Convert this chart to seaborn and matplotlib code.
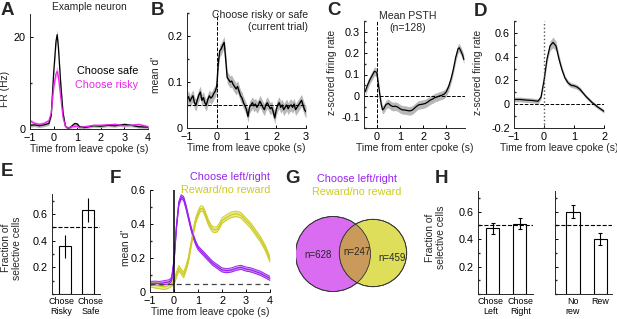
import numpy as np
import pandas as pd
import seaborn as sns
import matplotlib.pyplot as plt
from matplotlib.patches import Circle
from matplotlib.ticker import MultipleLocator

# ---------------- data ----------------
# A  example neuron
a_t = [-1, -0.8, -0.6, -0.4, -0.2, -0.1, 0, 0.1, 0.15, 0.2, 0.3, 0.4, 0.5, 0.6, 0.7, 0.8, 0.9, 1.0,
       1.1, 1.3, 1.5, 1.7, 2.0, 2.3, 2.6, 3.0, 3.3, 3.6, 4.0]
a_safe = [0.8, 0.9, 0.7, 0.9, 1.2, 3.0, 12.0, 19.0, 20.5, 18.0, 10.0, 3.5, 0.6, 0.2, 0.3, 0.8, 1.2, 1.1,
          0.5, 0.3, 0.5, 0.7, 0.6, 0.8, 0.7, 1.0, 0.8, 0.5, 0.4]
a_risky = [1.8, 1.2, 1.0, 1.2, 1.8, 3.5, 9.0, 12.0, 12.5, 11.5, 7.0, 2.5, 0.6, 0.2, 0.4, 0.5, 0.6, 0.6,
           0.3, 0.5, 0.6, 0.8, 0.8, 0.9, 1.0, 0.7, 0.8, 1.0, 0.5]
a_sem = [0.4, 0.4, 0.4, 0.4, 0.4, 0.5, 0.8, 1.0, 1.1, 1.0, 0.8, 0.5, 0.3, 0.3, 0.3, 0.3, 0.3, 0.3,
         0.3, 0.3, 0.3, 0.3, 0.3, 0.3, 0.3, 0.3, 0.3, 0.3, 0.3]

# B  mean d' choose risky vs safe
b_t = [round(-1 + 0.05 * i, 2) for i in range(81)]
b_mean = [0.062, 0.068, 0.058, 0.065, 0.07, 0.055, 0.05, 0.062, 0.072, 0.078,
          0.06, 0.066, 0.055, 0.05, 0.062, 0.07, 0.065, 0.068, 0.075, 0.08,
          0.09, 0.14, 0.168, 0.172, 0.18, 0.186, 0.15, 0.11, 0.105, 0.1,
          0.102, 0.095, 0.09, 0.085, 0.09, 0.08, 0.07, 0.065, 0.055, 0.048,
          0.04, 0.025, 0.045, 0.05, 0.055, 0.048, 0.052, 0.045, 0.05, 0.058,
          0.052, 0.045, 0.04, 0.05, 0.055, 0.048, 0.042, 0.045, 0.035, 0.022,
          0.04, 0.05, 0.055, 0.045, 0.05, 0.04, 0.045, 0.05, 0.042, 0.048,
          0.05, 0.045, 0.052, 0.04, 0.045, 0.05, 0.055, 0.06, 0.05, 0.04, 0.035]
b_sem = 0.013

# C  mean PSTH (enter cpoke)
c_t = [-0.5, -0.4, -0.3, -0.2, -0.1, 0.0, 0.05, 0.1, 0.15, 0.2, 0.25, 0.3, 0.4, 0.5, 0.6, 0.7, 0.8, 0.9,
       1.0, 1.1, 1.2, 1.3, 1.4, 1.5, 1.6, 1.7, 1.8, 1.9, 2.0, 2.1, 2.2, 2.3, 2.4, 2.5, 2.6, 2.7, 2.8,
       2.9, 3.0, 3.1, 3.2, 3.3, 3.4, 3.5, 3.55, 3.6, 3.7, 3.75]
c_mean = [0.02, 0.05, 0.075, 0.095, 0.115, 0.11, 0.07, 0.03, -0.01, -0.045, -0.065, -0.06, -0.04,
          -0.035, -0.045, -0.05, -0.048, -0.052, -0.06, -0.065, -0.066, -0.068, -0.07, -0.068, -0.06,
          -0.05, -0.042, -0.04, -0.038, -0.035, -0.028, -0.02, -0.015, -0.008, -0.005, 0.0, 0.003,
          0.008, 0.02, 0.045, 0.08, 0.125, 0.18, 0.22, 0.225, 0.215, 0.19, 0.17]
c_sem = 0.02

# D  mean PSTH (leave cpoke)
d_t = [-1, -0.8, -0.6, -0.4, -0.2, -0.1, 0, 0.1, 0.2, 0.3, 0.4, 0.5, 0.6, 0.7, 0.8, 0.9, 1.0, 1.1,
       1.2, 1.3, 1.4, 1.5, 1.6, 1.7, 1.8, 1.9, 2.0]
d_mean = [0.04, 0.04, 0.035, 0.032, 0.025, 0.06, 0.2, 0.38, 0.49, 0.52, 0.49, 0.38, 0.29, 0.22, 0.18,
          0.16, 0.155, 0.145, 0.125, 0.095, 0.065, 0.04, 0.015, -0.005, -0.025, -0.042, -0.06]
d_sem = [0.02, 0.02, 0.02, 0.02, 0.02, 0.02, 0.025, 0.03, 0.04, 0.045, 0.04, 0.035, 0.025, 0.02, 0.02,
         0.02, 0.02, 0.02, 0.02, 0.015, 0.015, 0.015, 0.015, 0.015, 0.015, 0.015, 0.015]

# E  fraction of selective cells
e_labels = ['Chose\nRisky', 'Chose\nSafe']
e_frac = [0.36, 0.63]
e_lo = [0.27, 0.54]
e_hi = [0.44, 0.72]

# F  mean d' choice vs reward
f_t = [-1, -0.8, -0.6, -0.4, -0.2, -0.1, 0, 0.1, 0.2, 0.3, 0.4, 0.5, 0.6, 0.7, 0.8, 0.9, 1.0, 1.1,
       1.2, 1.3, 1.4, 1.5, 1.6, 1.7, 1.8, 1.9, 2.0, 2.2, 2.4, 2.6, 2.8, 3.0, 3.2, 3.4, 3.6, 3.8, 4.0]
f_choice = [0.05, 0.052, 0.05, 0.055, 0.06, 0.075, 0.18, 0.38, 0.52, 0.56, 0.55, 0.5, 0.44, 0.38,
            0.33, 0.29, 0.26, 0.245, 0.23, 0.215, 0.2, 0.185, 0.17, 0.16, 0.15, 0.14, 0.13, 0.125,
            0.13, 0.14, 0.145, 0.135, 0.13, 0.12, 0.11, 0.095, 0.08]
f_reward = [0.045, 0.04, 0.035, 0.03, 0.04, 0.05, 0.06, 0.1, 0.14, 0.12, 0.1, 0.14, 0.19, 0.27, 0.35,
            0.42, 0.46, 0.49, 0.49, 0.46, 0.42, 0.39, 0.37, 0.365, 0.37, 0.39, 0.42, 0.44, 0.455,
            0.46, 0.45, 0.42, 0.39, 0.35, 0.31, 0.26, 0.19]
f_sem_choice = 0.012
f_sem_reward = 0.016

# G  overlap of selective cells
g_counts = {'left_only': 628, 'both': 247, 'reward_only': 459}

# H  fraction of selective cells
h1_labels = ['Chose\nLeft', 'Chose\nRight']
h1_frac = [0.48, 0.51]
h1_err = [0.04, 0.04]
h2_labels = ['No\nrew', 'Rew']
h2_frac = [0.60, 0.40]
h2_err = [0.045, 0.045]

# ---------------- style ----------------
sns.set_theme(style='ticks')
plt.rcParams['font.family'] = ['Liberation Sans', 'DejaVu Sans']
plt.rcParams.update({'font.size': 7.3, 'axes.linewidth': 0.7,
                     'xtick.direction': 'in', 'ytick.direction': 'in',
                     'xtick.major.size': 2.5, 'ytick.major.size': 2.5,
                     'xtick.minor.size': 1.5, 'ytick.minor.size': 1.5,
                     'xtick.major.width': 0.7, 'ytick.major.width': 0.7,
                     'xtick.labelsize': 7.8, 'ytick.labelsize': 7.8,
                     'axes.labelsize': 7.4, 'xtick.major.pad': 3.2, 'ytick.major.pad': 3.0})

W, H = 617, 319
fig = plt.figure(figsize=(W / 100, H / 100), dpi=100)


def px_axes(l, t, r, b):
    return fig.add_axes([l / W, 1 - b / H, (r - l) / W, (b - t) / H])


def clean(ax):
    sns.despine(ax=ax)
    ax.tick_params(colors='black', labelcolor='black')


def letter(x, y, s):
    fig.text(x / W, 1 - y / H, s, fontsize=13.5, fontweight='bold', va='top', ha='left')


GREY = '#b8b8b8'
PINK = '#ee22ee'
PURPLE = '#9922ee'
YELLOW = '#cccc22'

# ---------------- A ----------------
ax = px_axes(30, 14, 148, 129)
lo = np.array(a_risky) - np.array(a_sem)
hi = np.array(a_risky) + np.array(a_sem)
ax.fill_between(a_t, lo, hi, color='#f5a8f5', lw=0)
ax.fill_between(a_t, np.array(a_safe) - np.array(a_sem), np.array(a_safe) + np.array(a_sem),
                color=GREY, lw=0)
sns.lineplot(x=a_t, y=a_safe, ax=ax, color='black', lw=0.9)
sns.lineplot(x=a_t, y=a_risky, ax=ax, color=PINK, lw=0.9)
ax.set_xlim(-1, 4)
ax.set_ylim(0, 25)
ax.set_xticks(range(-1, 5))
ax.set_yticks([0, 20])
ax.yaxis.set_minor_locator(MultipleLocator(10))
ax.set_xlabel('Time from leave cpoke (s)', labelpad=0.3)
ax.set_ylabel('FR (Hz)', labelpad=2)
ax.yaxis.set_label_coords(-0.17, 0.35)
ax.set_title('Example neuron', fontsize=7.4, pad=3)
ax.text(0.92, 0.5, 'Choose safe', transform=ax.transAxes, ha='right', va='center', color='black',
        fontsize=7.8)
ax.text(0.92, 0.38, 'Choose risky', transform=ax.transAxes, ha='right', va='center', color=PINK,
        fontsize=7.8)
clean(ax)
letter(1, 2, 'A')

# ---------------- B ----------------
ax = px_axes(187, 13, 306, 128)
bm = np.array(b_mean)
ax.fill_between(b_t, bm - b_sem, bm + b_sem, color=GREY, lw=0)
sns.lineplot(x=b_t, y=b_mean, ax=ax, color='black', lw=1.0)
ax.axvline(0, ls='--', color='black', lw=0.7)
ax.axhline(0.05, ls='--', color='black', lw=0.7)
ax.set_xlim(-1, 3)
ax.set_ylim(0, 0.25)
ax.set_xticks(range(-1, 4))
ax.set_yticks([0, 0.1, 0.2])
ax.set_yticklabels(['0', '0.1', '0.2'])
ax.yaxis.set_minor_locator(MultipleLocator(0.05))
ax.set_xlabel('Time from leave cpoke (s)', labelpad=0.3)
ax.set_ylabel("mean d'", labelpad=2)
ax.yaxis.set_label_coords(-0.22, 0.46)
ax.text(1.02, 1.03, 'Choose risky or safe\n(current trial)', transform=ax.transAxes,
        ha='right', va='top', linespacing=1.25, fontsize=7.6)
clean(ax)
letter(151, 2, 'B')

# ---------------- C ----------------
ax = px_axes(364, 21, 465, 128)
cm = np.array(c_mean)
ax.fill_between(c_t, cm - c_sem, cm + c_sem, color=GREY, lw=0)
sns.lineplot(x=c_t, y=c_mean, ax=ax, color='black', lw=0.9)
ax.axvline(0, ls='--', color='black', lw=0.7)
ax.axhline(0, ls='--', color='black', lw=0.7)
ax.set_xlim(-0.55, 3.8)
ax.set_ylim(-0.15, 0.35)
ax.set_xticks([0, 1, 2, 3])
ax.set_yticks([-0.1, 0, 0.1, 0.2, 0.3])
ax.set_yticklabels(['-0.1', '0', '0.1', '0.2', '0.3'])
ax.yaxis.set_minor_locator(MultipleLocator(0.05))
ax.set_xlabel('Time from enter cpoke (s)', labelpad=0.3)
ax.set_ylabel('z-scored firing rate', labelpad=2)
ax.yaxis.set_label_coords(-0.27, 0.52)
ax.text(0.43, 1.09, 'Mean PSTH\n(n=128)', transform=ax.transAxes, ha='center', va='top',
        linespacing=1.25, fontsize=7.6)
clean(ax)
letter(327, 2, 'C')

# ---------------- D ----------------
ax = px_axes(514, 21, 604, 128)
dm, ds = np.array(d_mean), np.array(d_sem)
ax.fill_between(d_t, dm - ds, dm + ds, color=GREY, lw=0)
sns.lineplot(x=d_t, y=d_mean, ax=ax, color='black', lw=0.9)
ax.axvline(0, ls=':', color='#555555', lw=1.0)
ax.axhline(0, ls='--', color='black', lw=0.7)
ax.set_xlim(-1, 2)
ax.set_ylim(-0.2, 0.7)
ax.set_xticks([-1, 0, 1, 2])
ax.set_yticks([-0.2, 0, 0.2, 0.4, 0.6])
ax.set_yticklabels(['-0.2', '0', '0.2', '0.4', '0.6'])
ax.yaxis.set_minor_locator(MultipleLocator(0.1))
ax.set_xlabel('Time from leave cpoke (s)', labelpad=0.3)
ax.set_ylabel('z-scored firing rate', labelpad=2)
ax.yaxis.set_label_coords(-0.34, 0.52)
clean(ax)
letter(474, 3, 'D')


# ---------------- bar panels ----------------
def bars(ax, labels, vals, lo, hi, cap, label_pos=None):
    sns.barplot(x=labels, y=vals, ax=ax, color='white', edgecolor='black', linewidth=0.8,
                width=0.5, saturation=1)
    yerr = [np.array(vals) - np.array(lo), np.array(hi) - np.array(vals)]
    ax.errorbar(range(len(vals)), vals, yerr=yerr, fmt='none', ecolor='black', elinewidth=0.8,
                capsize=cap, capthick=0.8)
    ax.axhline(0.5, ls='--', color='black', lw=0.8)
    ax.set_ylim(0, 0.75)
    ax.set_yticks([0.2, 0.4, 0.6])
    ax.yaxis.set_minor_locator(MultipleLocator(0.1))
    if label_pos is not None:
        ax.set_xticks(label_pos, labels)
    ax.tick_params(axis='x', length=0, pad=2, labelsize=6.4)
    for t in ax.get_xticklabels():
        t.set_linespacing(1.15)
    clean(ax)


# E
ax = px_axes(52, 194, 100, 294)
bars(ax, e_labels, e_frac, e_lo, e_hi, 0, label_pos=[-0.15, 1.1])
ax.set_xlim(-0.55, 1.5)
ax.set_ylabel('Fraction of\nselective cells', labelpad=2, linespacing=1.1)
ax.yaxis.set_label_coords(-0.62, 0.46)
letter(1, 163, 'E')

# F
ax = px_axes(150, 190, 270, 292)
fc, fr = np.array(f_choice), np.array(f_reward)
ax.fill_between(f_t, fr - f_sem_reward, fr + f_sem_reward, color='#eaea9a', lw=0)
ax.fill_between(f_t, fc - f_sem_choice, fc + f_sem_choice, color='#d49cf5', lw=0)
for off in (-f_sem_reward, f_sem_reward):
    sns.lineplot(x=f_t, y=fr + off, ax=ax, color=YELLOW, lw=0.7)
for off in (-f_sem_choice, f_sem_choice):
    sns.lineplot(x=f_t, y=fc + off, ax=ax, color=PURPLE, lw=0.7)
sns.lineplot(x=f_t, y=f_reward, ax=ax, color=YELLOW, lw=0.9)
sns.lineplot(x=f_t, y=f_choice, ax=ax, color=PURPLE, lw=0.9)
ax.axhline(0.05, ls='--', color='#444444', lw=0.9, dashes=(4, 3))
ax.axvline(0, color='black', lw=1.1)
ax.set_xlim(-1, 4)
ax.set_ylim(0, 0.6)
ax.set_xticks(range(-1, 5))
ax.set_yticks([0, 0.2, 0.4, 0.6])
ax.set_yticklabels(['0', '0.2', '0.4', '0.6'])
ax.yaxis.set_minor_locator(MultipleLocator(0.1))
ax.set_xlabel('Time from leave cpoke (s)', labelpad=0.3)
ax.set_ylabel("mean d'", labelpad=2)
ax.yaxis.set_label_coords(-0.16, 0.43)
ax.text(1.0, 1.13, 'Choose left/right', transform=ax.transAxes, ha='right', va='center',
        color=PURPLE, fontsize=7.8)
ax.text(1.0, 1.0, 'Reward/no reward', transform=ax.transAxes, ha='right', va='center',
        color=YELLOW, fontsize=7.8)
clean(ax)
letter(110, 170, 'F')

# G venn
ax = px_axes(296, 170, 420, 300)
ax.set_xlim(0, 124)
ax.set_ylim(0, 130)
ax.set_aspect('equal')
ax.axis('off')
n_choice = g_counts['left_only'] + g_counts['both']
n_reward = g_counts['reward_only'] + g_counts['both']
k = 37.5 / np.sqrt(n_choice)
r1, r2 = k * np.sqrt(n_choice), k * np.sqrt(n_reward)
c1, c2 = (37, 46), (77, 47)
ax.add_patch(Circle(c1, r1, facecolor='#da6cf2', edgecolor='#333333', lw=0.6))
ax.add_patch(Circle(c2, r2, facecolor='#dede5a', edgecolor='#333333', lw=0.6))
clip = Circle(c1, r1, transform=ax.transData)
ov = Circle(c2, r2, facecolor='#c99a5c', edgecolor='none')
ax.add_patch(ov)
ov.set_clip_path(clip)
ax.add_patch(Circle(c1, r1, facecolor='none', edgecolor='#333333', lw=0.6))
ax.add_patch(Circle(c2, r2, facecolor='none', edgecolor='#333333', lw=0.6))
ax.text(22, 45, 'n=%d' % g_counts['left_only'], ha='center', va='center', fontsize=7.0)
ax.text(61, 48, 'n=%d' % g_counts['both'], ha='center', va='center', fontsize=7.0)
ax.text(96, 42, 'n=%d' % g_counts['reward_only'], ha='center', va='center', fontsize=7.0)
ax.text(61, 121, 'Choose left/right', ha='center', va='center', color=PURPLE, fontsize=7.8)
ax.text(61, 108, 'Reward/no reward', ha='center', va='center', color=YELLOW, fontsize=7.8)
letter(285, 170, 'G')

# H
ax = px_axes(478, 191, 533, 294)
lo = np.array(h1_frac) - np.array(h1_err)
hi = np.array(h1_frac) + np.array(h1_err)
bars(ax, h1_labels, h1_frac, lo, hi, 1.2, label_pos=[-0.08, 1.05])
ax.set_xlim(-0.54, 1.5)
ax.set_ylabel('Fraction of\nselective cells', labelpad=2, linespacing=1.1)
ax.yaxis.set_label_coords(-0.58, 0.55)

ax = px_axes(555, 191, 612, 294)
lo = np.array(h2_frac) - np.array(h2_err)
hi = np.array(h2_frac) + np.array(h2_err)
bars(ax, h2_labels, h2_frac, lo, hi, 1.2)
ax.set_xlim(-0.65, 1.42)
ax.set_yticklabels([])
letter(435, 170, 'H')

fig.savefig('out.png', dpi=100)
